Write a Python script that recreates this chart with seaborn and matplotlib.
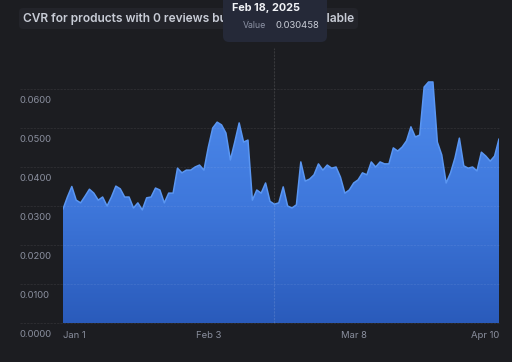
import numpy as np
import pandas as pd
import matplotlib
matplotlib.use("Agg")
import matplotlib.pyplot as plt
import matplotlib.dates as mdates
from matplotlib.colors import LinearSegmentedColormap
from matplotlib.patches import FancyBboxPatch
from matplotlib.transforms import ScaledTranslation
import seaborn as sns

# daily CVR, Jan 1 - Apr 10 2025
start_date = "2025-01-01"
cvr = [
    0.0292, 0.0323, 0.0350, 0.0315, 0.0308, 0.0325, 0.0343, 0.0333, 0.0315, 0.0323,
    0.0300, 0.0323, 0.0351, 0.0344, 0.0323, 0.0323, 0.0295, 0.0308, 0.0290, 0.0321,
    0.0323, 0.0346, 0.0341, 0.0308, 0.0333, 0.0333, 0.0397, 0.0385, 0.0392, 0.0392,
    0.0400, 0.0405, 0.0392, 0.0451, 0.0500, 0.0515, 0.0508, 0.0487, 0.0418, 0.0464,
    0.0513, 0.0464, 0.0469, 0.0315, 0.0341, 0.0333, 0.0359, 0.0312, 0.030458, 0.0308,
    0.0349, 0.0300, 0.0295, 0.0303, 0.0413, 0.0364, 0.0369, 0.0380, 0.0408, 0.0392,
    0.0405, 0.0397, 0.0400, 0.0374, 0.0333, 0.0341, 0.0359, 0.0367, 0.0385, 0.0380,
    0.0413, 0.0400, 0.0413, 0.0408, 0.0408, 0.0449, 0.0441, 0.0451, 0.0467, 0.0503,
    0.0477, 0.0482, 0.0605, 0.0618, 0.0618, 0.0464, 0.0431, 0.0359, 0.0385, 0.0423,
    0.0474, 0.0403, 0.0397, 0.0400, 0.0390, 0.0438, 0.0428, 0.0415, 0.0428, 0.0472,
]
y_ticks = [0.0, 0.01, 0.02, 0.03, 0.04, 0.05, 0.06]
y_labels = ["0.0000", "0.0100", "0.0200", "0.0300", "0.0400", "0.0500", "0.0600"]
x_ticks = ["2025-01-01", "2025-02-03", "2025-03-08", "2025-04-10"]
x_labels = ["Jan 1", "Feb 3", "Mar 8", "Apr 10"]
hover_date = "2025-02-18"
title = "CVR for products with 0 reviews but star ratings available"

df = pd.DataFrame({"date": pd.date_range(start_date, periods=len(cvr), freq="D"),
                   "cvr": cvr})

bg = "#1c1d21"
sns.set_theme(style="dark")
plt.rcParams["font.family"] = ["Inter", "DejaVu Sans"]

fig = plt.figure(figsize=(5.12, 3.62), dpi=100, facecolor=bg)
ax = fig.add_axes([63 / 512, 39 / 362, 436 / 512, 253.5 / 362])
ax.set_facecolor(bg)
for s in ax.spines.values():
    s.set_visible(False)

# gradient fill under the line
x0, x1 = mdates.date2num(df["date"].iloc[0]), mdates.date2num(df["date"].iloc[-1])
poly = ax.fill_between(df["date"], 0, df["cvr"], facecolor="none", edgecolor="none")
cmap = LinearSegmentedColormap.from_list("fill", ["#2a5bbb", "#3f78dc", "#4e8bec"])
grad = np.linspace(0, 1, 256).reshape(-1, 1)
im = ax.imshow(grad, extent=[x0, x1, 0, 0.062], origin="lower", aspect="auto",
               cmap=cmap, zorder=1)
im.set_clip_path(poly.get_paths()[0], transform=ax.transData)

sns.lineplot(data=df, x="date", y="cvr", ax=ax, color="#5a96f2", linewidth=1.1, zorder=3)

ax.set_xlim(df["date"].iloc[0], df["date"].iloc[-1])
ax.set_ylim(0, 0.065)
ax.set_xlabel("")
ax.set_ylabel("")
ax.set_yticks([])

# grid lines extend left past the plot, labels sit under each line
ext = -43 / 436
for v, lab in zip(y_ticks, y_labels):
    ax.axhline(v, xmin=ext, xmax=1, color="#ffffff", alpha=0.07, linewidth=0.8,
               linestyle=(0, (2, 1)), clip_on=False, zorder=2)
    ax.text(ext, v, lab, transform=ax.get_yaxis_transform() +
            ScaledTranslation(0, -0.115, fig.dpi_scale_trans),
            ha="left", va="center", fontsize=6.8, color="#8a8f9e")

ax.set_xticks(pd.to_datetime(x_ticks))
ax.set_xticklabels(x_labels, fontsize=6.8, color="#8a8f9e")
ax.tick_params(axis="x", length=0, pad=5.5)
xl = ax.get_xticklabels()
xl[0].set_ha("left")
xl[-1].set_ha("right")

# hover line
ax.axvline(pd.Timestamp(hover_date), ymin=0, ymax=(323 - 48) / 253.5, color="#ffffff",
           alpha=0.12, linewidth=0.8, linestyle=(0, (2, 1)), clip_on=False, zorder=2)

# title box
inch = fig.dpi_scale_trans
fig.patches.append(FancyBboxPatch((0.19, 3.33), 3.39, 0.21, transform=inch,
                                  boxstyle="round,pad=0,rounding_size=0.04",
                                  facecolor="#23242a", edgecolor="none", zorder=1))
fig.text(0.23, 3.43, title, transform=inch, ha="left", va="center",
         fontsize=8.6, fontweight="semibold", color="#c8ccd6", zorder=2)

# tooltip (covers part of the title)
fig.patches.append(FancyBboxPatch((2.23, 3.20), 1.04, 0.55, transform=inch,
                                  boxstyle="round,pad=0,rounding_size=0.06",
                                  facecolor="#252938", edgecolor="none", zorder=5))
fig.text(2.32, 3.54, "Feb 18, 2025", transform=inch, ha="left", va="center",
         fontsize=7.8, fontweight="bold", color="#f0f2f6", zorder=6)
fig.text(2.43, 3.37, "Value", transform=inch, ha="left", va="center",
         fontsize=6.3, color="#8d93a5", zorder=6)
fig.text(2.75, 3.37, "0.030458", transform=inch, ha="left", va="center",
         fontsize=6.8, color="#c8ccd6", zorder=6)

fig.savefig("out.png", dpi=100, facecolor=bg)
